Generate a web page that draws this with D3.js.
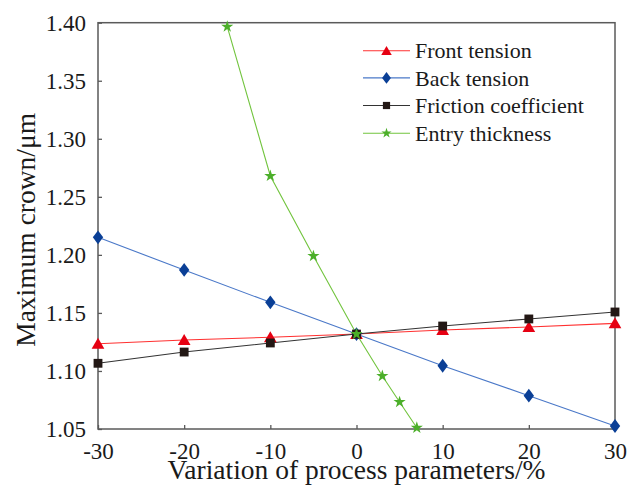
<!DOCTYPE html>
<html>
<head>
<meta charset="utf-8">
<script src="https://cdn.jsdelivr.net/npm/d3@7"></script>
<style>
  html, body { margin: 0; padding: 0; background: #fff; }
  svg { display: block; }
  text { font-family: "Liberation Serif", "Times New Roman", serif; fill: #1a1a1a; }
</style>
</head>
<body>
<svg id="chart" width="628" height="492"></svg>
<script>
// Variation of process parameters (%) and resulting maximum crown (μm)
const xVariation = [-30, -20, -10, 0, 10, 20, 30];
const frontTension = [1.1235, 1.1267, 1.1290, 1.1318, 1.1353, 1.1379, 1.1410];
const backTension = [1.2151, 1.1870, 1.1591, 1.1318, 1.1045, 1.0787, 1.0526];
const frictionCoefficient = [1.1066, 1.1163, 1.1241, 1.1318, 1.1387, 1.1448, 1.1508];
const entryX = [-15, -10, -5, 0, 3, 5, 7];
const entryThickness = [1.3966, 1.2680, 1.1990, 1.1318, 1.0957, 1.0732, 1.0511];

const xTicks = [-30, -20, -10, 0, 10, 20, 30];
const yTicks = [1.05, 1.10, 1.15, 1.20, 1.25, 1.30, 1.35, 1.40];

const seriesNames = ["Front tension", "Back tension", "Friction coefficient", "Entry thickness"];
const lineColors = ["#ff3030", "#4a78c8", "#333333", "#72c43e"];
const markerColors = ["#e60012", "#0a3f96", "#231815", "#4caf2a"];
const markerTypes = [d3.symbolTriangle, d3.symbolDiamond, d3.symbolSquare, d3.symbolStar];
const markerSizes = [70, 55, 78, 46];
const legendMarkerSizes = [48, 40, 52, 32];

const series = [
  { name: seriesNames[0], xs: xVariation, ys: frontTension },
  { name: seriesNames[1], xs: xVariation, ys: backTension },
  { name: seriesNames[2], xs: xVariation, ys: frictionCoefficient },
  { name: seriesNames[3], xs: entryX, ys: entryThickness }
];

const svg = d3.select("#chart");
const plot = { left: 98, right: 615, top: 22.7, bottom: 429 };

const x = d3.scaleLinear().domain([-30, 30]).range([plot.left, plot.right]);
const y = d3.scaleLinear().domain([1.05, 1.40]).range([plot.bottom, plot.top]);

const axisColor = "#5a5a5a";
const serif = '"Liberation Serif", "Times New Roman", serif';

// Bottom axis with inward ticks (plain hyphen for negatives)
const gx = svg.append("g")
  .attr("transform", `translate(0,${plot.bottom})`)
  .call(d3.axisBottom(x).tickValues(xTicks).tickSize(-4).tickPadding(13.5)
    .tickFormat(d => String(d)));
gx.selectAll("text").attr("dy", "0.71em");

// Left axis with inward ticks
const gy = svg.append("g")
  .attr("transform", `translate(${plot.left},0)`)
  .call(d3.axisLeft(y).tickValues(yTicks).tickSize(-4).tickPadding(12)
    .tickFormat(d3.format(".2f")));

[gx, gy].forEach(g => {
  g.select(".domain").remove();
  g.selectAll("line").attr("stroke", axisColor).attr("stroke-width", 1.3);
  g.attr("font-family", null).attr("font-size", null);
  g.selectAll("text")
    .style("font-family", serif)
    .style("font-size", "23px")
    .attr("fill", "#1a1a1a");
});

// Frame around the plotting area
svg.append("rect")
  .attr("x", plot.left).attr("y", plot.top)
  .attr("width", plot.right - plot.left).attr("height", plot.bottom - plot.top)
  .attr("fill", "none").attr("stroke", axisColor).attr("stroke-width", 1.5);

// Series lines
const line = d3.line().x(d => x(d[0])).y(d => y(d[1]));
series.forEach((s, i) => {
  const pts = s.xs.map((v, j) => [v, s.ys[j]]);
  svg.append("path")
    .datum(pts)
    .attr("d", line)
    .attr("fill", "none")
    .attr("stroke", lineColors[i])
    .attr("stroke-width", 1.1);
});

function markerTransform(type, cx, cy) {
  const dy = type === d3.symbolTriangle ? 1.3 : 0;
  const sx = type === d3.symbolDiamond ? " scale(1.3,1)" : "";
  return `translate(${cx},${cy + dy})${sx}`;
}

// Markers (drawn in order so later series sit on top)
series.forEach((s, i) => {
  const sym = d3.symbol().type(markerTypes[i]).size(markerSizes[i]);
  const pts = s.xs.map((v, j) => [v, s.ys[j]]);
  svg.append("g").selectAll("path")
    .data(pts)
    .join("path")
    .attr("d", sym)
    .attr("transform", d => markerTransform(markerTypes[i], x(d[0]), y(d[1])))
    .attr("fill", markerColors[i]);
});

// Legend
const legend = svg.append("g");
const legendRows = [50.7, 77.9, 105.5, 133.2];
seriesNames.forEach((name, i) => {
  const ry = legendRows[i];
  legend.append("line")
    .attr("x1", 363).attr("x2", 410).attr("y1", ry).attr("y2", ry)
    .attr("stroke", lineColors[i]).attr("stroke-width", 1.1);
  const sym = d3.symbol().type(markerTypes[i]).size(legendMarkerSizes[i]);
  legend.append("path")
    .attr("d", sym)
    .attr("transform", markerTransform(markerTypes[i], 386.5, ry))
    .attr("fill", markerColors[i]);
  legend.append("text")
    .attr("x", 415).attr("y", ry)
    .attr("dy", "0.35em")
    .style("font-size", "22px")
    .text(name);
});

// Axis titles
svg.append("text")
  .attr("x", (plot.left + plot.right) / 2)
  .attr("y", 478.5)
  .attr("text-anchor", "middle")
  .style("font-size", "27.5px")
  .text("Variation of process parameters/%");

svg.append("text")
  .attr("transform", `translate(35,${(plot.top + plot.bottom) / 2 + 4}) rotate(-90)`)
  .attr("text-anchor", "middle")
  .style("font-size", "27.5px")
  .text("Maximum crown/μm");
</script>
</body>
</html>
